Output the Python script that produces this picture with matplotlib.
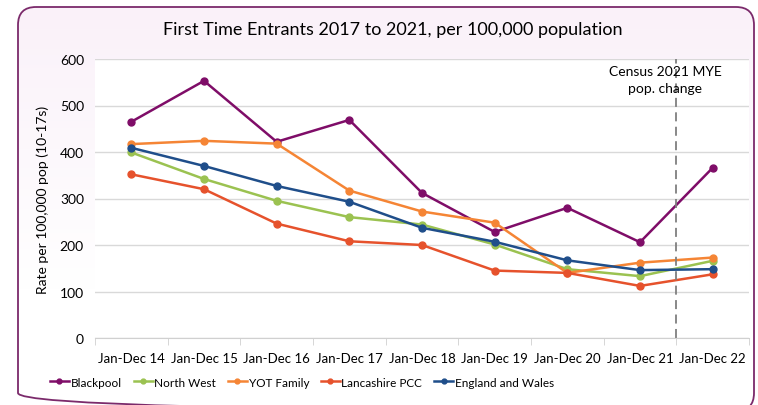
import numpy as np
import matplotlib.pyplot as plt
from matplotlib.patches import FancyBboxPatch

plt.rcParams['font.family'] = ['Lato', 'DejaVu Sans']

periods = ["Jan-Dec 14", "Jan-Dec 15", "Jan-Dec 16", "Jan-Dec 17", "Jan-Dec 18",
           "Jan-Dec 19", "Jan-Dec 20", "Jan-Dec 21", "Jan-Dec 22"]
blackpool = [465, 553, 422, 469, 312, 228, 280, 206, 366]
north_west = [399, 342, 295, 260, 244, 201, 148, 133, 166]
yot_family = [417, 424, 418, 317, 272, 248, 140, 162, 173]
lancashire = [352, 320, 246, 208, 200, 145, 140, 112, 137]
eng_wales = [409, 370, 327, 293, 237, 207, 167, 146, 148]

series = [
    ("Blackpool", blackpool, "#7f0d68"),
    ("North West", north_west, "#9bc251"),
    ("YOT Family", yot_family, "#f58535"),
    ("Lancashire PCC", lancashire, "#e6522c"),
    ("England and Wales", eng_wales, "#1f4e8a"),
]

fig = plt.figure(figsize=(7.58, 4.06), dpi=100)

# rounded frame with a faint pink gradient
bg = fig.add_axes([0, 0, 1, 1], zorder=-10)
bg.set_xlim(0, 758)
bg.set_ylim(406, 0)
bg.axis("off")
frame = FancyBboxPatch((18, 8), 736, 404, boxstyle="round,pad=0,rounding_size=18",
                       facecolor="none", edgecolor="#7b2a6b", linewidth=1.3)
bg.add_patch(frame)
grad = np.linspace(0, 1, 200).reshape(-1, 1)
im = bg.imshow(grad, extent=(18, 754, 412, 8), aspect="auto",
               cmap=plt.matplotlib.colors.LinearSegmentedColormap.from_list(
                   "pk", ["#faf1f9", "#ffffff"]), vmin=0, vmax=0.7)
im.set_clip_path(frame)

ax = fig.add_axes([95 / 758, 1 - 339 / 406, 654 / 758, 279 / 406])
ax.set_facecolor("white")
x = np.arange(len(periods))
for name, vals, col in series:
    ax.plot(x, vals, color=col, lw=1.8, marker="o", ms=5, label=name)

ax.set_xlim(-0.5, len(periods) - 0.5)
ax.set_ylim(0, 600)
ax.set_yticks(range(0, 601, 100))
ax.set_xticks(x)
ax.set_xticklabels(periods, fontsize=9.5)
ax.set_xticks(np.arange(-0.5, len(periods)), minor=True)
ax.tick_params(axis="x", which="major", length=0, pad=10)
ax.tick_params(axis="x", which="minor", length=5, color="#d0d0d0")
ax.tick_params(axis="y", length=0, labelsize=10, pad=8)
ax.grid(axis="y", color="#d9d9d9", lw=1)
ax.set_axisbelow(True)
for s in ["top", "right", "left"]:
    ax.spines[s].set_visible(False)
ax.spines["bottom"].set_color("#d0d0d0")

ax.set_ylabel("Rate per 100,000 pop (10-17s)", fontsize=10, labelpad=8)

ax.axvline(7.5, color="#7f7f7f", lw=1.3, ls=(0, (5, 3)))
ax.text(7.35, 588, "Census 2021 MYE\npop. change", ha="center", va="top",
        fontsize=10, linespacing=1.5)

fig.text(393 / 758, 1 - 30 / 406, "First Time Entrants 2017 to 2021, per 100,000 population",
         ha="center", va="center", fontsize=13)

ax.legend(loc="upper left", bbox_to_anchor=(-0.085, -0.1), ncol=5, frameon=False,
          fontsize=8.5, handlelength=1.6, handletextpad=0.15, columnspacing=1.0,
          markerscale=0.7)

fig.savefig("out.png", dpi=100)
